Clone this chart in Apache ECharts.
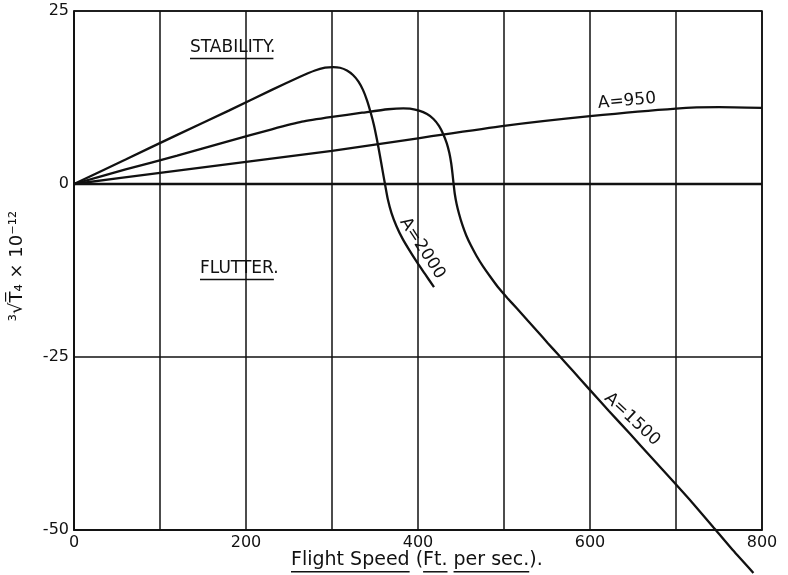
<!DOCTYPE html>
<html>
<head>
<meta charset="utf-8">
<script src="https://cdn.jsdelivr.net/npm/echarts@6/dist/echarts.min.js"></script>
<style>
  html, body { margin: 0; padding: 0; background: #fff; }
  #chart { width: 788px; height: 575px; }
</style>
</head>
<body>
<div id="chart"></div>
<script>
var FONT = 'DejaVu Sans';
var INK = '#111';

// flight speed (ft/sec) against cube root of T4 x 10^-12
var speedA950 = [0, 100, 200, 300, 400, 500, 600, 700, 750, 800];
var valueA950 = [0, 1.6, 3.2, 4.8, 6.6, 8.4, 9.8, 10.9, 11.1, 11.0];

var speedA1500 = [0, 60, 120, 180, 230, 265, 300, 335, 365, 383, 390.7, 401.2, 410.5, 418.0, 424.4, 429.4, 433.4, 436.4, 438.6, 440.1, 441.4,
                  442.8, 444.9, 447.7, 451.4, 456.0, 461.6, 468.1, 475.6, 484.1, 493.6, 504.1, 515.1, 527, 539, 551, 563, 580, 598.0, 622, 646.5,
                  672, 696.9, 720, 743.4, 766, 790.0];
var valueA1500 = [0, 2.1, 4.1, 6.2, 7.9, 9.0, 9.7, 10.3, 10.8, 10.94, 10.88, 10.6, 10.1, 9.4, 8.4, 7.2, 5.9, 4.5, 3.0, 1.5, 0,
                  -1.45, -2.9, -4.3, -5.85, -7.4, -8.9, -10.4, -11.9, -13.4, -15.0, -16.5, -18.0, -19.65, -21.3, -23.0, -24.65, -27.0, -29.5, -32.8, -36.1,
                  -39.6, -43.0, -46.2, -49.6, -52.9, -56.2];

var speedA2000 = [0, 60, 120, 180, 230, 262.8, 280.2, 291.9, 301.2, 309.3, 317.4, 324.4, 330.8, 336, 340.7, 344.8, 348.8, 352.3, 355.6, 358.7,
                  361.6, 364.9, 369.2, 375, 382, 390.1, 398.8, 408.1, 418.6];
var valueA2000 = [0, 3.55, 7.1, 10.6, 13.6, 15.5, 16.4, 16.8, 16.9, 16.8, 16.4, 15.75, 14.8, 13.6, 12.1, 10.4, 8.5, 6.4, 4.2, 2.0,
                  0, -2.2, -4.2, -6.1, -7.9, -9.6, -11.3, -13.0, -14.9];

var chart = echarts.init(document.getElementById('chart'));

function pairs(xs, ys) {
    return xs.map(function (x, i) { return [x, ys[i]]; });
}

function curve(name, xs, ys, extra) {
    var s = {
        name: name,
        type: 'line',
        data: pairs(xs, ys),
        smooth: 0.2,
        symbol: 'none',
        clip: false,
        lineStyle: { color: INK, width: 2.3 }
    };
    return Object.assign(s, extra || {});
}

chart.setOption({
    backgroundColor: '#fff',
    animation: false,
    grid: { left: 74, right: 26, top: 11, bottom: 45, show: true, borderColor: INK, borderWidth: 1.6 },
    xAxis: {
        type: 'value', min: 0, max: 800, interval: 100,
        axisLine: { onZero: false, lineStyle: { color: INK, width: 1.6 } },
        axisTick: { show: false },
        splitLine: { lineStyle: { color: INK, width: 1.5 } },
        axisLabel: {
            color: INK, fontFamily: FONT, fontSize: 16, margin: 5,
            formatter: function (v) { return v % 200 === 0 ? String(v) : ''; }
        }
    },
    yAxis: {
        type: 'value', min: -50, max: 25, interval: 25,
        axisLine: { show: true, lineStyle: { color: INK, width: 1.6 } },
        axisTick: { show: false },
        splitLine: { lineStyle: { color: INK, width: 1.5 } },
        axisLabel: { color: INK, fontFamily: FONT, fontSize: 16, margin: 5 }
    },
    series: [
        curve('A=950', speedA950, valueA950, {
            markLine: {
                silent: true, symbol: 'none', label: { show: false },
                lineStyle: { color: INK, width: 2.3, type: 'solid' },
                data: [{ yAxis: 0 }]
            }
        }),
        curve('A=1500', speedA1500, valueA1500),
        curve('A=2000', speedA2000, valueA2000)
    ]
});

// ---- annotations ----
var ctx = document.createElement('canvas').getContext('2d');
function textWidth(s, size) {
    ctx.font = size + 'px "' + FONT + '"';
    return ctx.measureText(s).width;
}
function px(x, y) {
    return chart.convertToPixel({ gridIndex: 0 }, [x, y]);
}

var graphics = [];

// text with underlined parts (given as [start, end] substring indices)
function underlined(str, left, midY, size, parts) {
    var children = [{
        type: 'text', x: 0, y: 0,
        style: { text: str, fill: INK, font: size + 'px "' + FONT + '"', textAlign: 'left', textVerticalAlign: 'middle' }
    }];
    parts.forEach(function (p) {
        var a = textWidth(str.slice(0, p[0]), size);
        var b = textWidth(str.slice(0, p[1]), size);
        children.push({
            type: 'line',
            shape: { x1: a, y1: size * 0.62, x2: b, y2: size * 0.62 },
            style: { stroke: INK, lineWidth: 1.5 }
        });
    });
    graphics.push({ type: 'group', x: left, y: midY, children: children });
}

underlined('STABILITY.', 190, 48, 17, [[0, 9]]);
underlined('FLUTTER.', 200, 269, 17, [[0, 7]]);

var xTitle = 'Flight Speed (Ft. per sec.).';
underlined(xTitle, 291, 560, 19, [[0, 12], [14, 17], [18, 26]]);

// y axis title, rotated
graphics.push({
    type: 'text', x: 17, y: 266, rotation: Math.PI / 2,
    style: {
        text: '³√T̅₄ × 10⁻¹²', fill: INK, font: '18px "' + FONT + '"',
        textAlign: 'center', textVerticalAlign: 'middle'
    }
});

// curve labels
var curveLabels = [
    { text: 'A=950', at: [643, 12.0], rot: 5 },
    { text: 'A=2000', at: [405, -9.3], rot: -57 },
    { text: 'A=1500', at: [649, -34.0], rot: -43 }
];
curveLabels.forEach(function (l) {
    var p = px(l.at[0], l.at[1]);
    graphics.push({
        type: 'text', x: p[0], y: p[1], rotation: l.rot * Math.PI / 180,
        style: {
            text: l.text, fill: INK, font: '17px "' + FONT + '"',
            textAlign: 'center', textVerticalAlign: 'middle'
        }
    });
});

chart.setOption({ graphic: graphics });

window.addEventListener('resize', function () {
    chart.resize();
});
</script>
</body>
</html>
